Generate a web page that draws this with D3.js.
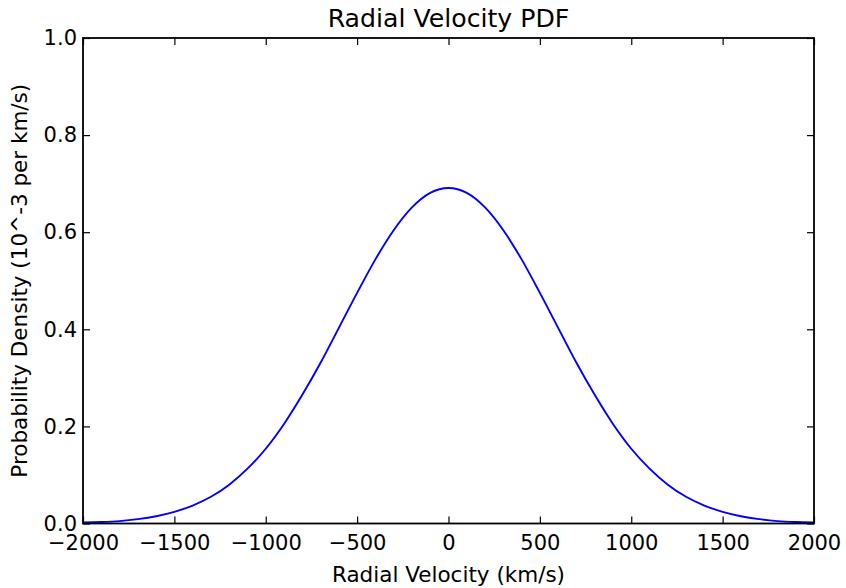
<!DOCTYPE html>
<html>
<head>
<meta charset="utf-8">
<script src="https://cdn.jsdelivr.net/npm/d3@7"></script>
<style>
  html, body { margin: 0; padding: 0; background: #fff; }
  svg { display: block; }
  text { font-family: "DejaVu Sans", sans-serif; fill: #000; }
</style>
</head>
<body>
<svg id="chart" width="846" height="588"></svg>
<script>
// Data (velocity in km/s, density in 10^-3 per km/s)
const velocities = [-2000,-1900,-1800,-1700,-1600,-1500,-1400,-1300,-1200,-1100,-1000,-900,-800,-700,-600,-500,-400,-300,-200,-100,0,
  100,200,300,400,500,600,700,800,900,1000,1100,1200,1300,1400,1500,1600,1700,1800,1900,2000];
const density = [0.002,0.003,0.005,0.009,0.015,0.024,0.037,0.055,0.080,0.113,0.154,0.205,0.265,0.331,0.403,0.475,0.544,0.604,0.651,0.681,0.691,
  0.681,0.651,0.604,0.544,0.475,0.403,0.331,0.265,0.205,0.154,0.113,0.080,0.055,0.037,0.024,0.015,0.009,0.005,0.003,0.002];
const xTicks = [-2000,-1500,-1000,-500,0,500,1000,1500,2000];
const yTicks = [0.0,0.2,0.4,0.6,0.8,1.0];
const titleText = "Radial Velocity PDF";
const xLabel = "Radial Velocity (km/s)";
const yLabel = "Probability Density (10^-3 per km/s)";

const svg = d3.select("#chart");
const L = 83, R = 814, T = 38, B = 523.5;
const x = d3.scaleLinear().domain([-2000, 2000]).range([L, R]);
const y = d3.scaleLinear().domain([0, 1]).range([B, T]);
const fs = 21;
const fmtX = d => (d < 0 ? "\u2212" + Math.abs(d) : String(d));
const fmtY = d => d.toFixed(1);

// curve
const pts = velocities.map((v, i) => [v, density[i]]);
svg.append("path")
  .datum(pts)
  .attr("fill", "none")
  .attr("stroke", "#0000ff")
  .attr("stroke-width", 1.9)
  .attr("d", d3.line().x(d => x(d[0])).y(d => y(d[1])).curve(d3.curveMonotoneX));

// axes with inward ticks
const tickLen = 7;
const bottomAxis = d3.axisBottom(x).tickValues(xTicks).tickSizeInner(-tickLen).tickSizeOuter(0).tickFormat(fmtX).tickPadding(12);
const topAxis = d3.axisTop(x).tickValues(xTicks).tickSizeInner(-tickLen).tickSizeOuter(0).tickFormat("");
const leftAxis = d3.axisLeft(y).tickValues(yTicks).tickSizeInner(-tickLen).tickSizeOuter(0).tickFormat(fmtY).tickPadding(6);
const rightAxis = d3.axisRight(y).tickValues(yTicks).tickSizeInner(-tickLen).tickSizeOuter(0).tickFormat("");

function style(g) {
  g.select(".domain").remove();
  g.selectAll(".tick line").attr("stroke", "#000").attr("stroke-width", 1.2);
  g.selectAll(".tick text").style("font-family", "DejaVu Sans, sans-serif").style("font-size", fs + "px").attr("fill", "#000");
}
svg.append("g").attr("transform", `translate(0,${B})`).call(bottomAxis).call(style)
  .selectAll(".tick text").attr("dy", "0.71em");
svg.append("g").attr("transform", `translate(0,${T})`).call(topAxis).call(style);
svg.append("g").attr("transform", `translate(${L},0)`).call(leftAxis).call(style);
svg.append("g").attr("transform", `translate(${R},0)`).call(rightAxis).call(style);

// frame
svg.append("rect").attr("x", L).attr("y", T).attr("width", R - L).attr("height", B - T)
  .attr("fill", "none").attr("stroke", "#000").attr("stroke-width", 1.8);

// title & labels
svg.append("text").attr("x", (L + R) / 2).attr("y", 26.7).attr("text-anchor", "middle")
  .style("font-size", "25.2px").text(titleText);
svg.append("text").attr("x", (L + R) / 2).attr("y", 582).attr("text-anchor", "middle")
  .style("font-size", "21.5px").text(xLabel);
svg.append("text").attr("transform", `translate(27.3,${(T + B) / 2}) rotate(-90)`).attr("text-anchor", "middle")
  .style("font-size", "21.5px").text(yLabel);
</script>
</body>
</html>
